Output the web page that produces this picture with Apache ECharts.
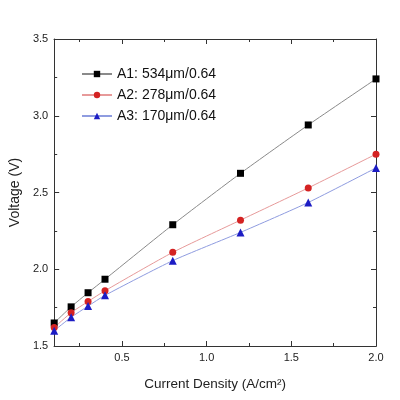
<!DOCTYPE html>
<html>
<head>
<meta charset="utf-8">
<script src="https://cdn.jsdelivr.net/npm/echarts@6/dist/echarts.min.js"></script>
<style>
  html, body { margin: 0; padding: 0; background: #fff; }
  #chart { width: 400px; height: 400px; }
</style>
</head>
<body>
<div id="chart"></div>
<script>
// current density (A/cm2)
const density = [0.1, 0.2, 0.3, 0.4, 0.8, 1.2, 1.6, 2.0];
const a1 = [1.65, 1.755, 1.847, 1.935, 2.29, 2.625, 2.94, 3.24];
const a2 = [1.62, 1.717, 1.79, 1.86, 2.11, 2.32, 2.53, 2.75];
const a3 = [1.60, 1.687, 1.76, 1.83, 2.056, 2.24, 2.435, 2.66];
const names = ["A1: 534\u03bcm/0.64", "A2: 278\u03bcm/0.64", "A3: 170\u03bcm/0.64"];
const xMajor = [0.5, 1.0, 1.5, 2.0];
const xMinor = [0.25, 0.75, 1.25, 1.75];

const font = "Liberation Sans, Arial, sans-serif";
const axisCol = "#333";

function pairs(ys) {
  return density.map((x, i) => [x, ys[i]]);
}

function xAxisDef(pos, ticks, len, labels) {
  return {
    type: "value", position: pos, min: 0.1, max: 2.0,
    axisLine: { show: true, lineStyle: { color: axisCol, width: 1 } },
    axisTick: { show: true, inside: true, length: len, customValues: ticks, lineStyle: { color: axisCol } },
    axisLabel: labels ? {
      show: true, customValues: xMajor, margin: 6, color: "#222", fontFamily: font, fontSize: 11,
      formatter: (v) => v.toFixed(1)
    } : { show: false },
    splitLine: { show: false },
    name: labels ? "Current Density (A/cm\u00b2)" : "",
    nameLocation: "middle", nameGap: 31,
    nameTextStyle: { color: "#222", fontFamily: font, fontSize: 13.5 }
  };
}

function yAxisDef(pos, labels) {
  return {
    type: "value", position: pos, min: 1.5, max: 3.5, interval: 0.5,
    axisLine: { show: true, lineStyle: { color: axisCol, width: 1 } },
    axisTick: { show: true, inside: true, length: 5, lineStyle: { color: axisCol } },
    minorTick: { show: true, splitNumber: 2, length: 3, lineStyle: { color: axisCol } },
    axisLabel: labels ? {
      show: true, margin: 6, color: "#222", fontFamily: font, fontSize: 11,
      formatter: (v) => v.toFixed(1)
    } : { show: false },
    splitLine: { show: false },
    minorSplitLine: { show: false },
    name: labels ? "Voltage (V)" : "",
    nameLocation: "middle", nameGap: 26,
    nameTextStyle: { color: "#222", fontFamily: font, fontSize: 14 }
  };
}

const chart = echarts.init(document.getElementById("chart"));
chart.setOption({
  backgroundColor: "#fff",
  animation: false,
  grid: { left: 52, right: 24, top: 39, bottom: 54 },
  legend: {
    orient: "vertical", left: 76, top: 62, itemGap: 7,
    itemWidth: 30, itemHeight: 8,
    textStyle: { color: "#111", fontFamily: font, fontSize: 14 },
    data: names
  },
  xAxis: [
    xAxisDef("bottom", xMajor, 5, true),
    xAxisDef("bottom", xMinor, 3, false),
    xAxisDef("top", xMajor, 5, false),
    xAxisDef("top", xMinor, 3, false)
  ],
  yAxis: [yAxisDef("left", true), yAxisDef("right", false)],
  series: [
    {
      name: names[0], type: "line", data: pairs(a1), smooth: 0.2,
      symbol: "rect", symbolSize: 7,
      itemStyle: { color: "#000" },
      lineStyle: { color: "#8a8a8a", width: 1 }
    },
    {
      name: names[1], type: "line", data: pairs(a2), smooth: 0.2,
      symbol: "circle", symbolSize: 7,
      itemStyle: { color: "#d42222" },
      lineStyle: { color: "#e79a9a", width: 1 }
    },
    {
      name: names[2], type: "line", data: pairs(a3), smooth: 0.2,
      symbol: "triangle", symbolSize: 8,
      itemStyle: { color: "#1c1cc4" },
      lineStyle: { color: "#8f9ce0", width: 1 }
    }
  ]
});
</script>
</body>
</html>
